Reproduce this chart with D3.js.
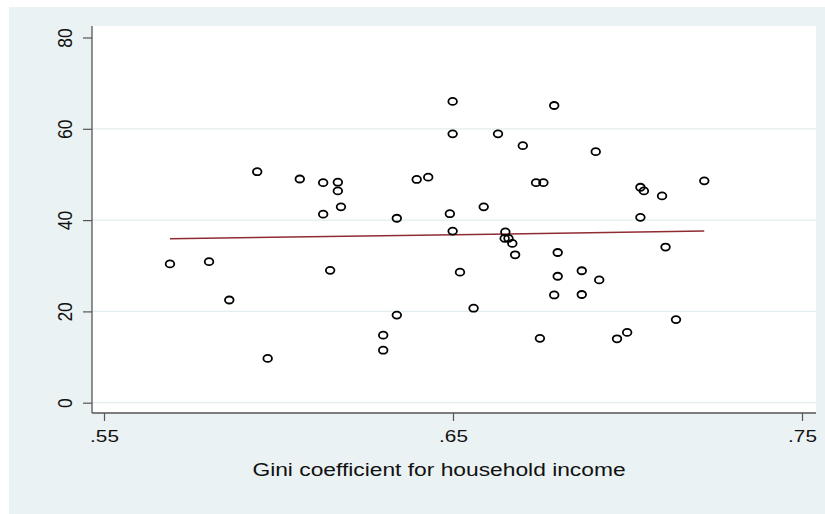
<!DOCTYPE html>
<html lang="en">
  <head>
    <meta charset="utf-8">
    <title>Gini scatter</title>
    <script src="https://d3js.org/d3.v7.min.js"></script>
    <style>
      body { margin: 0; background: #fff; }
      text { font-family: "Liberation Sans", Arial, sans-serif; fill: #111; }
    </style>
  </head>
  <body>
    <script>
      // data
      const gini = [0.5689, 0.5801, 0.5859, 0.5939, 0.5969, 0.6061, 0.6128, 0.6128, 0.6148, 0.6170,
        0.6170, 0.6179, 0.6300, 0.6300, 0.6339, 0.6339, 0.6396, 0.6429, 0.6491, 0.6499,
        0.6499, 0.6499, 0.6520, 0.6559, 0.6588, 0.6629, 0.6650, 0.6648, 0.6659, 0.6670,
        0.6678, 0.6700, 0.6738, 0.6749, 0.6759, 0.6790, 0.6790, 0.6800, 0.6800, 0.6869,
        0.6869, 0.6909, 0.6919, 0.6970, 0.6999, 0.7037, 0.7037, 0.7047, 0.7099, 0.7109,
        0.7139, 0.7220];
      const share = [30.4, 30.9, 22.5, 50.6, 9.7, 49.0, 48.2, 41.3, 29.0, 48.3,
        46.4, 42.9, 14.8, 11.5, 40.4, 19.2, 48.9, 49.4, 41.4, 66.0,
        58.9, 37.6, 28.6, 20.7, 42.9, 58.9, 37.4, 36.0, 36.0, 34.9,
        32.4, 56.3, 48.2, 14.1, 48.2, 65.1, 23.6, 32.9, 27.7, 28.9,
        23.7, 55.0, 26.9, 14.0, 15.4, 47.2, 40.6, 46.4, 45.3, 34.1,
        18.2, 48.6];
      // fitted values (linear fit) at the ends of the x range
      const fitGini = [0.5689, 0.7220];
      const fitShare = [35.9, 37.6];

      const xTicks = [0.55, 0.65, 0.75];
      const yTicks = [0, 20, 40, 60, 80];
      const gridTicks = [0, 20, 40, 60];
      const xTitle = "Gini coefficient for household income";

      const w = 825;
      const h = 514;
      const plot = { left: 92, top: 26, right: 816, bottom: 413 };
      const stretch = 1.2; // reference is wider than tall

      const svg = d3.select("body")
        .append("svg")
        .attr("width", w)
        .attr("height", h);

      svg.append("rect")
        .attr("x", 9)
        .attr("y", 7)
        .attr("width", w - 9)
        .attr("height", h - 7)
        .attr("fill", "#eaf2f3");

      svg.append("rect")
        .attr("x", plot.left)
        .attr("y", plot.top)
        .attr("width", plot.right - plot.left)
        .attr("height", plot.bottom - plot.top)
        .attr("fill", "#fff");

      const xScale = d3.scaleLinear()
        .domain([0.55, 0.75])
        .range([104, 802]);

      const yScale = d3.scaleLinear()
        .domain([0, 80])
        .range([402.7, 37.5]);

      // grid
      svg.append("g")
        .selectAll("line")
        .data(gridTicks)
        .enter().append("line")
        .attr("x1", plot.left)
        .attr("x2", plot.right)
        .attr("y1", d => yScale(d))
        .attr("y2", d => yScale(d))
        .attr("stroke", "#e4edef")
        .attr("stroke-width", 1.3);

      // axes
      const yAxis = d3.axisLeft(yScale)
        .tickValues(yTicks)
        .tickSize(9)
        .tickFormat(d => d);

      const yG = svg.append("g")
        .attr("transform", `translate(${plot.left},0)`)
        .call(yAxis);
      yG.select(".domain").remove();
      yG.selectAll(".tick line").attr("stroke", "#555").attr("stroke-width", 1.2);
      yG.selectAll(".tick text")
        .attr("x", null)
        .attr("dy", null)
        .attr("text-anchor", "middle")
        .attr("font-size", 17.5)
        .attr("transform", `translate(-20,0) scale(${stretch},1) rotate(-90)`);

      const xAxis = d3.axisBottom(xScale)
        .tickValues(xTicks)
        .tickSize(8)
        .tickFormat(d => d3.format(".2f")(d).replace(/^0/, ""));

      const xG = svg.append("g")
        .attr("transform", `translate(0,${plot.bottom})`)
        .call(xAxis);
      xG.select(".domain").remove();
      xG.selectAll(".tick line").attr("stroke", "#555").attr("stroke-width", 1.2);
      xG.selectAll(".tick text")
        .attr("y", 16.5)
        .attr("font-size", 17.3)
        .attr("transform", `scale(${stretch},1)`);

      svg.append("line")
        .attr("x1", plot.left).attr("x2", plot.left)
        .attr("y1", plot.top).attr("y2", plot.bottom)
        .attr("stroke", "#555").attr("stroke-width", 1.3);
      svg.append("line")
        .attr("x1", plot.left).attr("x2", plot.right)
        .attr("y1", plot.bottom).attr("y2", plot.bottom)
        .attr("stroke", "#555").attr("stroke-width", 1.3);

      svg.append("text")
        .attr("transform", `translate(439,475.7) scale(${stretch},1)`)
        .attr("text-anchor", "middle")
        .attr("font-size", 19)
        .text(xTitle);

      // fitted line
      const line = d3.line()
        .x((d, i) => xScale(fitGini[i]))
        .y(d => yScale(d));

      svg.append("path")
        .datum(fitShare)
        .attr("d", line)
        .attr("fill", "none")
        .attr("stroke", "#912b33")
        .attr("stroke-width", 1.5);

      // points
      svg.append("g")
        .selectAll("ellipse")
        .data(gini)
        .enter().append("ellipse")
        .attr("cx", d => xScale(d))
        .attr("cy", (d, i) => yScale(share[i]))
        .attr("rx", 4.3)
        .attr("ry", 3.5)
        .attr("fill", "none")
        .attr("stroke", "#000")
        .attr("stroke-width", 1.8);
    </script>
  </body>
</html>
